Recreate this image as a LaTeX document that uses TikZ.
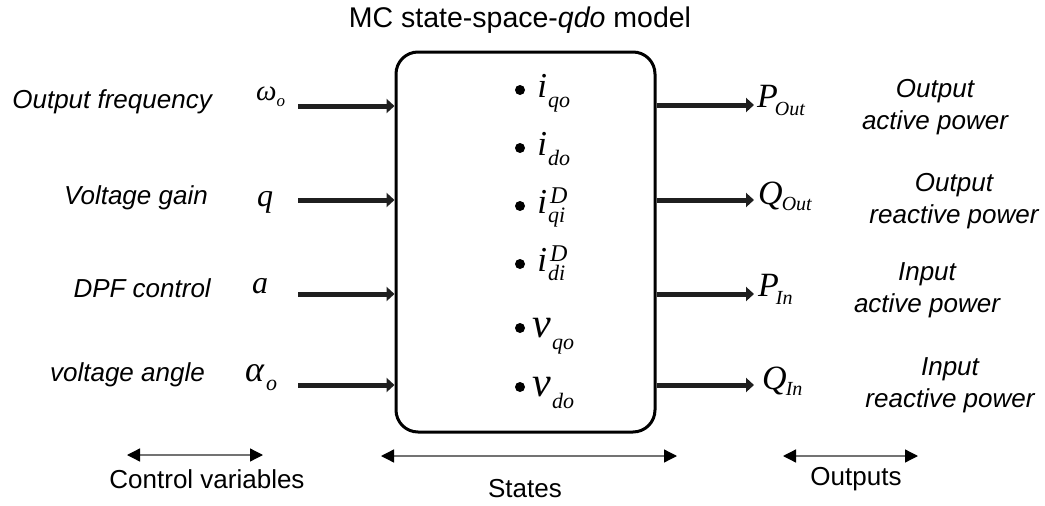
\documentclass[tikz,border=0pt]{standalone}
\usepackage{fontspec}
\setmainfont{Liberation Sans}
\newfontfamily\tms{Liberation Serif}
\usetikzlibrary{arrows.meta}

% italic serif symbol with a lowered subscript
% #1 base size, #2 base, #3 sub size, #4 drop, #5 sub, #6 kern
\newcommand\sy[6]{{\tms\itshape\fontsize{#1}{#1}\selectfont #2}\kern#6{\tms\itshape\raisebox{-#4}{\fontsize{#3}{#3}\selectfont #5}}}
% same with a superscript stacked over the subscript
\newcommand\sysup[3]{{\tms\itshape\fontsize{35}{35}\selectfont #1}\kern1pt{\tms\itshape\rlap{\kern2pt\raisebox{10pt}{\fontsize{24}{24}\selectfont #3}}\raisebox{-9pt}{\fontsize{22}{22}\selectfont #2}}}

\tikzset{
  lbl/.style={font=\itshape\fontsize{26}{32}\selectfont, inner sep=0pt},
  captxt/.style={font=\fontsize{26}{32}\selectfont, inner sep=0pt},
  symb/.style={inner sep=0pt, anchor=base west},
  inarrow/.style={line width=5pt, -{Triangle[length=8pt,width=14pt]}, draw=black!88},
  spanline/.style={line width=1.3pt, draw=black!55, {Triangle[length=13pt,width=13pt,fill=black,color=black]}-{Triangle[length=13pt,width=13pt,fill=black,color=black]}},
  statedot/.style={circle, fill=black, inner sep=0pt, minimum size=10pt},
}

\begin{document}
\begin{tikzpicture}[x=1pt,y=-1pt]
\useasboundingbox (0,0) rectangle (1045,506);

% title and the model block
\node[captxt, font=\fontsize{28.5}{32}\selectfont] (title) at (520,20) {MC state-space-\textit{qdo} model};
\node[draw, line width=3pt, rounded corners=22pt, minimum width=259pt, minimum height=380pt, inner sep=0pt] (box) at (525.5,242) {};

% control variables
\node[lbl, anchor=east] (l1) at (212,102) {Output frequency};
\node[lbl, anchor=east] (l2) at (208,198) {Voltage gain};
\node[lbl, anchor=east] (l3) at (211,288) {DPF control};
\node[lbl, anchor=east] (l4) at (205,375) {voltage angle};

\node[symb] (w) at (256,100) {\sy{29}{ω}{17}{6pt}{o}{0pt}};
\node[symb] (q) at (257,206) {{\tms\itshape\fontsize{32}{32}\selectfont q}};
\node[symb] (a) at (252,293) {{\tms\itshape\fontsize{32}{32}\selectfont a}};
\node[symb] (al) at (245,381) {\sy{36}{α}{22}{9pt}{o}{2pt}};

\coordinate (c1) at (298,106);
\coordinate (c2) at (298,200);
\coordinate (c3) at (298,294);
\coordinate (c4) at (298,385);
\foreach \c in {c1,c2,c3,c4}
  \draw[inarrow] (\c) -- (\c -| box.west);

% states (yshift is in page units, so negative moves down)
\foreach \y/\n in {90/d1,148/d2,206/d3,264/d4,328/d5,387/d6}
  \node[statedot] (\n) at (520,\y) {};
\node[symb] (s1) at ([xshift=12pt,yshift=-7pt]d1.east) {\sy{35}{i}{22}{10pt}{qo}{1pt}};
\node[symb] (s2) at ([xshift=12pt,yshift=-7pt]d2.east) {\sy{35}{i}{22}{10pt}{do}{1pt}};
\node[symb] (s3) at ([xshift=12pt,yshift=-7pt]d3.east) {\sysup{i}{qi}{D}};
\node[symb] (s4) at ([xshift=12pt,yshift=-7pt]d4.east) {\sysup{i}{di}{D}};
\node[symb] (s5) at ([xshift=7pt,yshift=-9pt]d5.east) {\sy{42}{v}{22}{12pt}{qo}{1pt}};
\node[symb] (s6) at ([xshift=7pt,yshift=-9pt]d6.east) {\sy{42}{v}{22}{12pt}{do}{1pt}};

% outputs
\coordinate (o1) at (754,105);
\coordinate (o2) at (754,200);
\coordinate (o3) at (754,294);
\coordinate (o4) at (754,385);
\foreach \c in {o1,o2,o3,o4}
  \draw[inarrow] (\c -| box.east) -- (\c);

\node[symb] (p1) at ([xshift=3pt,yshift=-2pt]o1) {\sy{34}{P}{20}{8pt}{Out}{-3pt}};
\node[symb] (p2) at ([xshift=4pt,yshift=-4pt]o2) {\sy{34}{Q}{20}{6pt}{Out}{-1pt}};
\node[symb] (p3) at ([xshift=4pt,yshift=-2pt]o3) {\sy{34}{P}{20}{8pt}{In}{-3pt}};
\node[symb] (p4) at ([xshift=8pt,yshift=-4pt]o4) {\sy{34}{Q}{20}{6pt}{In}{-1pt}};

\node[lbl, align=center] (r1) at (935,107) {Output\\active power};
\node[lbl, align=center] (r2) at (954,201) {Output\\reactive power};
\node[lbl, align=center] (r3) at (927,290) {Input\\active power};
\node[lbl, align=center] (r4) at (950,385) {Input\\reactive power};

% spans of the three groups
\coordinate (cvL) at (127,455);
\coordinate (cvR) at (263,455);
\draw[spanline] (cvL) -- (cvR);
\node[captxt] (cv) at (207,479) {Control variables};

\coordinate (stL) at (381,456);
\coordinate (stR) at (677,456);
\draw[spanline] (stL) -- (stR);
\node[captxt] (st) at (525,489) {States};

\coordinate (ouL) at (783,456);
\coordinate (ouR) at (918,456);
\draw[spanline] (ouL) -- (ouR);
\node[captxt] (ou) at (856,479) {Outputs};
\end{tikzpicture}
\end{document}
